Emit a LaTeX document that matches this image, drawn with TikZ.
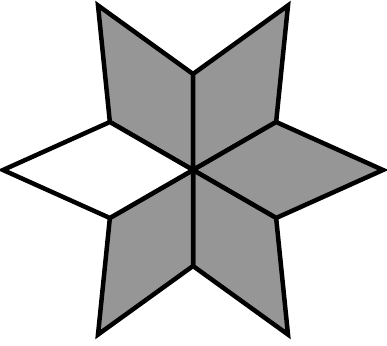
\documentclass[tikz,border=0pt]{standalone}
\usepackage{tikz}
\definecolor{kitegray}{RGB}{150,150,150}

\begin{document}
\begin{tikzpicture}[x=1pt,y=1pt]
	\useasboundingbox (0,0) rectangle (387,345);
	\begin{scope}[shift={(193,175)}, line width=4.5pt]
	\draw[fill=kitegray] (0,0) -- (90:96) -- (120:190) -- (150:96) -- cycle;
	\draw[fill=kitegray] (0,0) -- (90:96) -- (60:190) -- (30:96) -- cycle;
	\draw[fill=kitegray] (0,0) -- (30:96) -- (0:190) -- (-30:96) -- cycle;
	\draw[fill=kitegray] (0,0) -- (-30:96) -- (-60:190) -- (-90:96) -- cycle;
	\draw[fill=kitegray] (0,0) -- (-90:96) -- (-120:190) -- (-150:96) -- cycle;
	\draw[fill=white] (0,0) -- (-150:96) -- (180:190) -- (150:96) -- cycle;
	\end{scope}
\end{tikzpicture}
\end{document}
